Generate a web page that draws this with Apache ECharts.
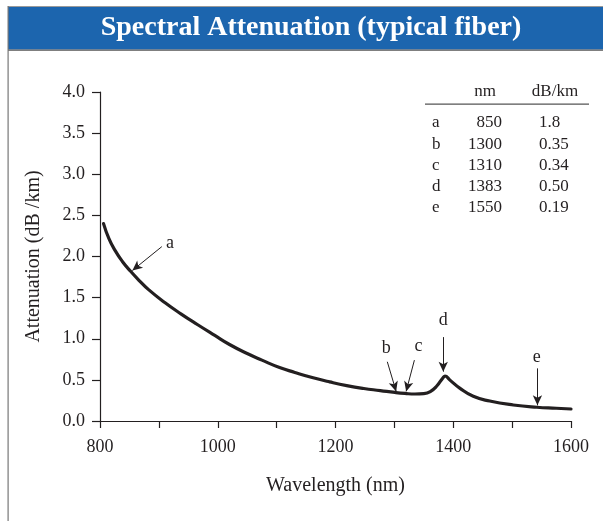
<!DOCTYPE html>
<html>
<head>
<meta charset="utf-8">
<script src="https://cdn.jsdelivr.net/npm/echarts@6/dist/echarts.min.js"></script>
<style>
html,body{margin:0;padding:0;background:#fff;}
#chart{width:603px;height:521px;}
</style>
</head>
<body>
<div id="chart"></div>
<script>
// ---- data ----
var titleText = 'Spectral Attenuation (typical fiber)';
var xAxisName = 'Wavelength (nm)';
var yAxisName = 'Attenuation (dB /km)';
var wavelength = [806, 815, 825, 838, 852, 867, 882, 910, 938, 966, 995, 1020, 1050, 1075, 1105, 1131, 1162, 1190, 1219, 1248, 1276, 1301, 1318, 1335, 1350, 1361, 1372, 1383, 1386, 1394, 1411, 1434, 1462, 1502, 1542, 1575, 1600];
var attenuation = [2.40, 2.22, 2.08, 1.94, 1.82, 1.705, 1.60, 1.44, 1.30, 1.17, 1.04, 0.93, 0.82, 0.74, 0.65, 0.59, 0.525, 0.475, 0.43, 0.395, 0.37, 0.347, 0.335, 0.328, 0.333, 0.358, 0.425, 0.53, 0.547, 0.50, 0.40, 0.30, 0.243, 0.195, 0.167, 0.155, 0.146];
var xTicks = [800, 1000, 1200, 1400, 1600];
var yTicks = [0.0, 0.5, 1.0, 1.5, 2.0, 2.5, 3.0, 3.5, 4.0];
// annotations: letter, arrow tail [nm, dB/km], arrow tip [nm, dB/km], letter position [nm, dB/km]
var annLetters = ['a', 'b', 'c', 'd', 'e'];
var annTail = [[905, 2.12], [1288, 0.72], [1334, 0.74], [1383, 1.02], [1543, 0.64]];
var annTip = [[855, 1.83], [1303, 0.36], [1320, 0.36], [1383, 0.60], [1543, 0.19]];
var annLabel = [[919, 2.16], [1286, 0.89], [1341, 0.91], [1383, 1.23], [1542, 0.78]];
// table
var tableHeader = ['nm', 'dB/km'];
var tableLetters = ['a', 'b', 'c', 'd', 'e'];
var tableNm = ['850', '1300', '1310', '1383', '1550'];
var tableDb = ['1.8', '0.35', '0.34', '0.50', '0.19'];

// ---- build ----
var FONT = '"Liberation Serif", "DejaVu Serif", serif';
var INK = '#231f20';
var chart = echarts.init(document.getElementById('chart'), null, {renderer: 'canvas'});

var lineData = wavelength.map(function (w, i) { return [w, attenuation[i]]; });

var markLines = annTail.map(function (t, i) {
  return [
    {coord: t, symbol: 'none'},
    {coord: annTip[i], symbol: 'arrow', symbolSize: [7, 10]}
  ];
});

var labelData = annLetters.map(function (l, i) {
  return {name: l, value: annLabel[i]};
});

var graphics = [
  {type: 'rect', shape: {x: 8, y: 6, width: 600, height: 1}, style: {fill: '#9a9a9a'}, silent: true},
  {type: 'rect', shape: {x: 8, y: 7, width: 600, height: 42.5}, style: {fill: '#1c65ae'}, silent: true},
  {type: 'rect', shape: {x: 8, y: 49.5, width: 600, height: 1.2}, style: {fill: '#555'}, silent: true},
  {type: 'rect', shape: {x: 7.5, y: 6, width: 1.2, height: 520}, style: {fill: '#777'}, silent: true},
  {type: 'text', x: 311, y: 28, style: {text: titleText, fill: '#fff', font: 'bold 28px ' + FONT, textAlign: 'center', textVerticalAlign: 'middle'}, silent: true},
  {type: 'text', x: 485, y: 92, style: {text: tableHeader[0], fill: INK, font: '17px ' + FONT, textAlign: 'center', textVerticalAlign: 'middle'}, silent: true},
  {type: 'text', x: 555, y: 92, style: {text: tableHeader[1], fill: INK, font: '17px ' + FONT, textAlign: 'center', textVerticalAlign: 'middle'}, silent: true},
  {type: 'rect', shape: {x: 425, y: 103.5, width: 164, height: 1.3}, style: {fill: '#555'}, silent: true}
];
for (var i = 0; i < tableLetters.length; i++) {
  var cy = 123 + i * 21.2;
  graphics.push({type: 'text', x: 432, y: cy, style: {text: tableLetters[i], fill: INK, font: '17px ' + FONT, textAlign: 'left', textVerticalAlign: 'middle'}, silent: true});
  graphics.push({type: 'text', x: 502, y: cy, style: {text: tableNm[i], fill: INK, font: '17px ' + FONT, textAlign: 'right', textVerticalAlign: 'middle'}, silent: true});
  graphics.push({type: 'text', x: 539, y: cy, style: {text: tableDb[i], fill: INK, font: '17px ' + FONT, textAlign: 'left', textVerticalAlign: 'middle'}, silent: true});
}

var option = {
  backgroundColor: '#fff',
  animation: false,
  grid: {left: 100, right: 32, top: 92, bottom: 100, containLabel: false},
  xAxis: {
    type: 'value', min: 800, max: 1600, interval: 100,
    name: xAxisName, nameLocation: 'middle', nameGap: 55,
    nameTextStyle: {fontFamily: FONT, fontSize: 20, color: INK},
    axisLine: {show: true, onZero: false, lineStyle: {color: INK, width: 1.2}},
    axisTick: {show: true, inside: false, length: 7, lineStyle: {color: INK, width: 1.2}},
    axisLabel: {
      margin: 17, fontFamily: FONT, fontSize: 18, color: INK,
      formatter: function (v) { return xTicks.indexOf(v) >= 0 ? String(v) : ''; }
    },
    splitLine: {show: false}
  },
  yAxis: {
    type: 'value', min: 0, max: 4, interval: 0.5,
    name: yAxisName, nameLocation: 'middle', nameGap: 56,
    nameTextStyle: {fontFamily: FONT, fontSize: 20, color: INK},
    axisLine: {show: true, lineStyle: {color: INK, width: 1.2}},
    axisTick: {show: true, inside: false, length: 8, lineStyle: {color: INK, width: 1.2}},
    axisLabel: {
      margin: 15, fontFamily: FONT, fontSize: 18, color: INK,
      formatter: function (v) {
        for (var k = 0; k < yTicks.length; k++) { if (Math.abs(yTicks[k] - v) < 1e-9) return yTicks[k].toFixed(1); }
        return '';
      }
    },
    splitLine: {show: false}
  },
  graphic: graphics,
  series: [
    {
      type: 'line', data: lineData, smooth: 0.5, showSymbol: false, symbol: 'none',
      lineStyle: {color: INK, width: 3.2, cap: 'round', join: 'round'},
      markLine: {
        silent: true, animation: false,
        label: {show: false},
        lineStyle: {color: INK, width: 1, type: 'solid'},
        emphasis: {disabled: true},
        data: markLines
      },
      z: 3
    },
    {
      type: 'scatter', data: labelData, symbolSize: 0, silent: true,
      label: {show: true, position: 'inside', formatter: '{b}', fontFamily: FONT, fontSize: 18, color: INK, textBorderWidth: 0, opacity: 1},
      z: 4
    }
  ]
};
chart.setOption(option);
</script>
</body>
</html>
